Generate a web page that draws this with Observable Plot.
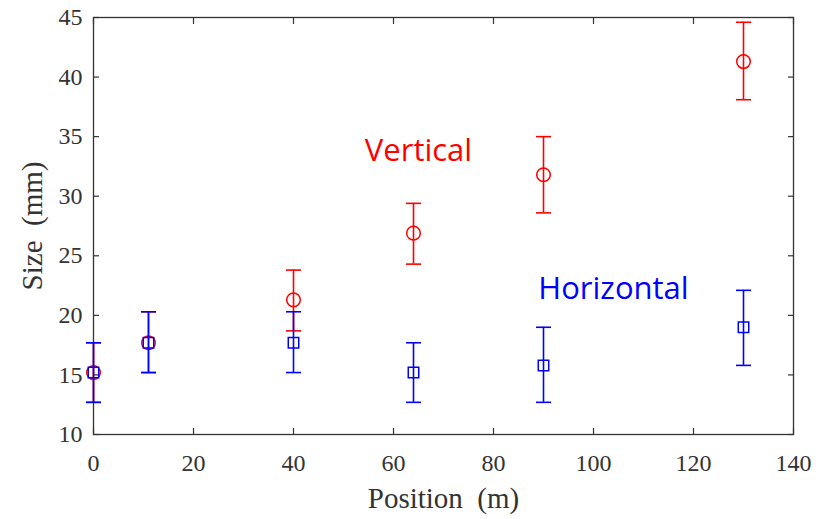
<!DOCTYPE html>
<html>
<head>
<meta charset="utf-8">
<script src="https://cdn.jsdelivr.net/npm/d3@7"></script>
<script src="https://cdn.jsdelivr.net/npm/@observablehq/plot@0.6"></script>
<style>
  html, body { margin: 0; padding: 0; background: #fff; }
  #chart svg { display: block; }
</style>
</head>
<body>
<div id="chart"></div>
<script>
// ---- data ----
const positions      = [0, 11, 40, 64, 90, 130];
const vertical       = [15.2, 17.7, 21.3, 26.9, 31.8, 41.3];
const verticalLow    = [12.7, 15.2, 18.7, 24.3, 28.6, 38.1];
const verticalHigh   = [17.7, 20.3, 23.8, 29.4, 35.0, 44.6];
const horizontal     = [15.2, 17.7, 17.7, 15.2, 15.8, 19.0];
const horizontalLow  = [12.7, 15.2, 15.2, 12.7, 12.7, 15.8];
const horizontalHigh = [17.7, 20.3, 20.3, 17.7, 19.0, 22.1];

const xTicks = [0, 20, 40, 60, 80, 100, 120, 140];
const yTicks = [10, 15, 20, 25, 30, 35, 40, 45];

const seriesNames  = ["Vertical", "Horizontal"];
const seriesColors = ["#ff0000", "#0000ff"];
const labelX = [65, 104];
const labelY = [33.8, 22.2];

const xLabel = "Position\u00a0 (m)";
const yLabel = "Size\u00a0 (mm)";

// ---- tables ----
const vData = positions.map((p, i) => ({x: p, y: vertical[i], lo: verticalLow[i], hi: verticalHigh[i]}));
const hData = positions.map((p, i) => ({x: p, y: horizontal[i], lo: horizontalLow[i], hi: horizontalHigh[i]}));
const labels = seriesNames.map((n, i) => ({text: n, x: labelX[i], y: labelY[i], color: seriesColors[i]}));

// horizontal cap symbol for error bars
const capSymbol = {
  draw(context, size) {
    const w = Math.sqrt(size / Math.PI);
    context.moveTo(-w, 0);
    context.lineTo(w, 0);
  }
};

const serif = "'Liberation Serif', 'Times New Roman', Times, serif";
const axisColor = "#333";

function errorMarks(data, color, symbol, r) {
  return [
    Plot.ruleX(data, {x: "x", y1: "lo", y2: "hi", stroke: color, strokeWidth: 1.6}),
    Plot.dot(data, {x: "x", y: "lo", symbol: capSymbol, r: 7.5, stroke: color, strokeWidth: 1.6, fill: "none"}),
    Plot.dot(data, {x: "x", y: "hi", symbol: capSymbol, r: 7.5, stroke: color, strokeWidth: 1.6, fill: "none"}),
    Plot.dot(data, {x: "x", y: "y", symbol, r, stroke: color, strokeWidth: 1.5, fill: "none"})
  ];
}

const chart = Plot.plot({
  width: 821,
  height: 519,
  marginLeft: 93,
  marginRight: 28,
  marginTop: 17,
  marginBottom: 85,
  style: {fontFamily: serif, background: "#fff", color: axisColor},
  x: {domain: [0, 140], label: null},
  y: {domain: [10, 45], label: null},
  marks: [
    // tick labels
    Plot.axisX(xTicks, {anchor: "bottom", tickSize: 0, tickPadding: 19, fontSize: 24, fontFamily: serif, fill: axisColor, label: null}),
    Plot.axisY(yTicks, {anchor: "left", tickSize: 0, tickPadding: 11, fontSize: 24, fontFamily: serif, fill: axisColor, label: null}),
    // inward tick marks on all four sides
    Plot.axisX(xTicks, {anchor: "bottom", tickSize: 6, dy: -6, tickFormat: () => "", stroke: axisColor, strokeWidth: 1.2, label: null}),
    Plot.axisX(xTicks, {anchor: "top", tickSize: 6, dy: 6, tickFormat: () => "", stroke: axisColor, strokeWidth: 1.2, label: null}),
    Plot.axisY(yTicks, {anchor: "left", tickSize: 6, dx: 6, tickFormat: () => "", stroke: axisColor, strokeWidth: 1.2, label: null}),
    Plot.axisY(yTicks, {anchor: "right", tickSize: 6, dx: -6, tickFormat: () => "", stroke: axisColor, strokeWidth: 1.2, label: null}),
    Plot.frame({stroke: axisColor, strokeWidth: 1.3}),
    // axis titles
    Plot.text([xLabel], {frameAnchor: "bottom", dy: 64, lineAnchor: "middle", textAnchor: "middle", text: d => d, fontSize: 29, fontFamily: serif, fill: axisColor}),
    Plot.text([yLabel], {frameAnchor: "left", dx: -61, lineAnchor: "middle", textAnchor: "middle", rotate: -90, text: d => d, fontSize: 29, fontFamily: serif, fill: axisColor}),
    // data
    ...errorMarks(vData, seriesColors[0], "circle", 6.8),
    ...errorMarks(hData, seriesColors[1], "square", 5.9),
    // series annotations
    Plot.text(labels, {x: "x", y: "y", text: "text", fill: "color", fontSize: 31, fontFamily: "'Open Sans', 'Noto Sans', sans-serif"})
  ]
});

document.getElementById("chart").appendChild(chart);
</script>
</body>
</html>
